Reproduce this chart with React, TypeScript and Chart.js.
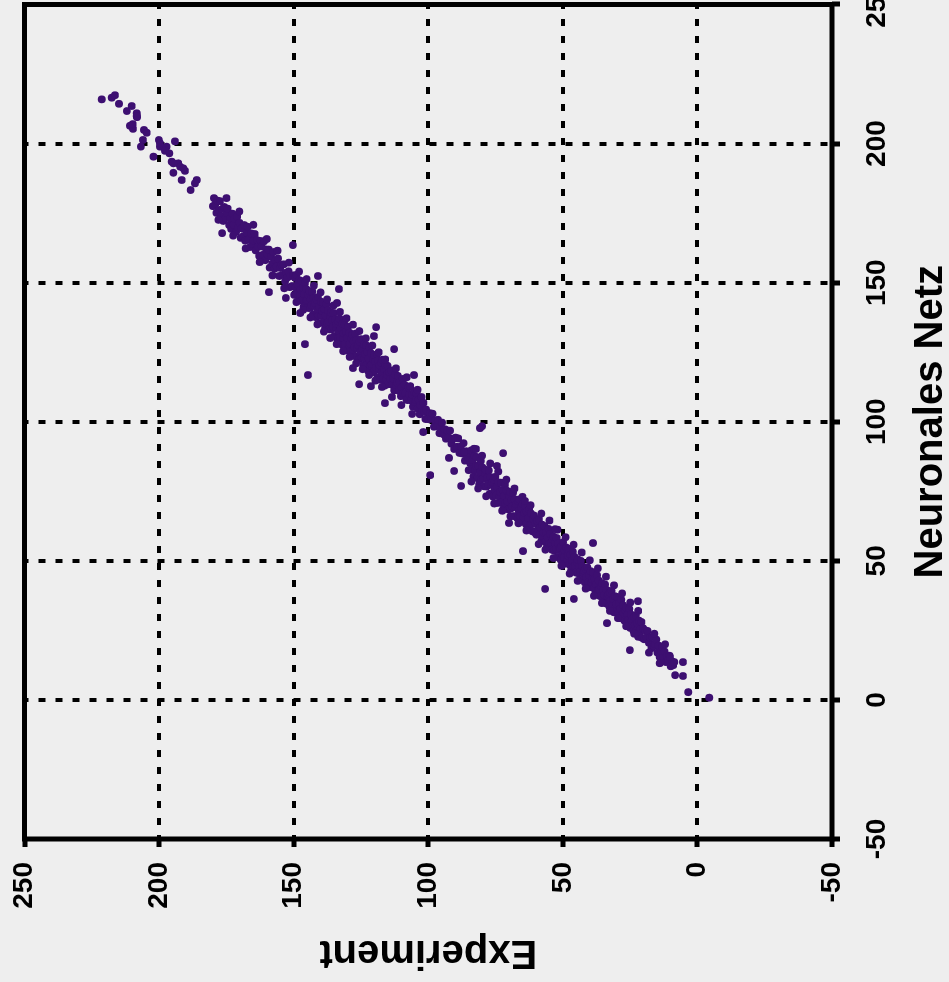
import { useEffect, useRef } from "react";
import { Chart, registerables } from "chart.js";

Chart.register(...registerables);

// Axis configuration (values)
const axisMin = -50;
const axisMax = 250;
const axisStep = 50;
const xTitle = "Neuronales Netz";
const yTitle = "Experiment";

// Data points: [Experiment, Neuronales Netz]
const tailPoints: number[][] = [
  [221.3, 215.9], [217.6, 216.5], [216.4, 217.4], [214.9, 214.3], [212.0, 211.7], [210.2, 213.5],
  [208.3, 210.9], [208.2, 209.5], [210.8, 206.4], [209.7, 205.3], [205.6, 204.9], [204.6, 203.9],
  [206.0, 201.3], [206.8, 198.9], [200.1, 201.3], [199.7, 198.9], [197.2, 198.9], [194.1, 200.8],
  [202.1, 195.3], [196.2, 196.5], [195.3, 193.5], [192.9, 192.9], [192.2, 191.7], [194.7, 189.5],
  [190.4, 190.2], [191.6, 186.9], [186.0, 186.9], [186.7, 185.7], [188.3, 183.3], [209.8, 207.0],
  [208.3, 209.9], [199.7, 200.1], [197.8, 197.4], [194.7, 192.9], [191.0, 191.1],
];

const upperBand: number[][] = [
  [180.0, 177.5], [179.6, 180.4], [179.1, 178.3], [178.7, 175.1], [178.3, 179.5], [177.9, 176.1],
  [177.4, 179.3], [177.0, 174.0], [176.6, 176.5], [176.2, 172.2], [175.8, 177.2], [175.3, 173.2],
  [174.9, 175.1], [174.5, 176.6], [174.0, 170.7], [173.6, 173.0], [173.2, 169.3], [172.7, 174.8],
  [172.3, 170.9], [171.9, 172.9], [171.4, 168.2], [171.0, 173.8], [170.6, 169.9], [170.1, 171.5],
  [169.7, 166.1], [169.3, 169.5], [168.8, 166.7], [168.4, 170.7], [168.0, 165.1], [167.5, 168.0],
  [167.1, 170.1], [166.7, 165.6], [166.2, 162.8], [165.8, 167.7], [165.4, 164.0], [164.9, 165.2],
  [164.5, 167.5], [164.1, 161.6], [163.6, 165.3], [163.2, 162.9], [162.8, 159.6], [162.3, 165.0],
  [161.9, 163.0], [161.5, 160.0], [161.0, 164.9], [160.6, 158.1], [160.2, 161.9], [159.7, 160.1],
  [159.3, 161.9], [158.9, 155.4], [158.4, 159.3], [158.0, 156.8], [157.6, 161.0], [157.1, 155.0],
  [156.7, 158.0], [156.3, 155.8], [155.8, 158.7], [155.4, 152.4], [155.0, 155.3], [154.5, 156.4],
  [154.1, 152.8], [153.7, 156.6], [153.2, 150.5], [152.8, 153.6], [152.4, 151.8], [151.9, 154.1],
  [151.5, 148.4], [151.1, 152.4], [150.6, 148.8], [150.2, 152.6],
];

const centralBand: number[][] = [
  [149.8, 145.6], [149.5, 151.8], [149.3, 148.2], [149.0, 152.8], [148.7, 146.1], [148.5, 149.4],
  [148.2, 143.5], [147.9, 150.9], [147.7, 145.9], [147.4, 147.5], [147.1, 150.6], [146.9, 143.6],
  [146.6, 148.1], [146.3, 141.4], [146.1, 145.8], [145.8, 149.9], [145.5, 143.3], [145.3, 147.7],
  [145.0, 143.8], [144.7, 140.9], [144.5, 145.7], [144.2, 147.0], [143.9, 140.9], [143.7, 144.1],
  [143.4, 141.9], [143.1, 146.8], [142.9, 138.5], [142.6, 144.5], [142.3, 141.7], [142.1, 142.8],
  [141.8, 137.6], [141.5, 143.8], [141.3, 140.2], [141.0, 144.8], [140.7, 138.1], [140.5, 141.4],
  [140.2, 135.5], [139.9, 143.2], [139.7, 138.2], [139.4, 139.8], [139.1, 142.9], [138.9, 135.9],
  [138.6, 140.4], [138.3, 133.7], [138.1, 138.1], [137.8, 142.2], [137.5, 135.6], [137.3, 140.0],
  [137.0, 136.1], [136.7, 133.2], [136.5, 138.0], [136.2, 139.3], [135.9, 133.2], [135.7, 136.4],
  [135.4, 134.2], [135.1, 139.1], [134.9, 130.8], [134.6, 136.8], [134.3, 134.0], [134.1, 135.1],
  [133.8, 129.9], [133.5, 136.1], [133.3, 132.5], [133.0, 137.1], [132.7, 130.4], [132.5, 133.7],
  [132.2, 127.8], [131.9, 135.2], [131.7, 130.2], [131.4, 131.8], [131.1, 134.9], [130.9, 127.9],
  [130.6, 132.4], [130.3, 125.7], [130.1, 130.1], [129.8, 134.2], [129.5, 127.6], [129.3, 132.0],
  [129.0, 128.1], [128.7, 125.2], [128.5, 130.0], [128.2, 131.3], [127.9, 125.8], [127.7, 129.0],
  [127.4, 126.8], [127.1, 131.7], [126.9, 123.4], [126.6, 129.4], [126.3, 126.6], [126.1, 127.7],
  [125.8, 122.5], [125.5, 128.7], [125.3, 125.1], [125.0, 129.7], [124.7, 123.0], [124.5, 126.3],
  [124.2, 120.4], [123.9, 127.8], [123.7, 122.8], [123.4, 124.4], [123.1, 127.5], [122.9, 120.5],
  [122.6, 125.0], [122.3, 118.3], [122.1, 122.7], [121.8, 126.8], [121.5, 120.2], [121.3, 124.6],
  [121.0, 120.7], [120.7, 117.8], [120.5, 122.6], [120.2, 123.9], [119.9, 118.4], [119.7, 121.6],
  [119.4, 119.4], [119.1, 124.3], [118.9, 116.0], [118.6, 122.0], [118.3, 119.2], [118.1, 120.3],
  [117.8, 115.1], [117.5, 121.3], [117.3, 117.7], [117.0, 122.3], [116.7, 115.6], [116.5, 118.9],
  [116.2, 113.0], [115.9, 120.4], [115.7, 115.4], [115.4, 117.0], [115.1, 120.1],
];

const middleBand: number[][] = [
  [114.8, 113.5], [114.4, 117.8], [114.1, 115.3], [113.7, 118.4], [113.4, 113.3], [113.0, 115.5],
  [112.7, 111.3], [112.3, 117.0], [112.0, 113.2], [111.6, 114.1], [111.3, 116.5], [110.9, 111.1],
  [110.6, 114.3], [110.2, 109.2], [109.9, 112.4], [109.5, 115.4], [109.2, 110.3], [108.8, 113.3],
  [108.5, 110.3], [108.1, 108.1], [107.8, 107.8], [107.4, 112.3], [107.1, 109.7], [106.7, 112.8],
  [106.4, 107.7], [106.0, 109.8], [105.7, 105.4], [105.3, 110.8], [105.0, 107.0], [104.6, 107.9],
  [104.3, 110.2], [103.9, 104.7], [103.6, 107.9], [103.2, 102.7], [102.9, 105.9], [102.5, 108.9],
  [102.2, 103.8], [101.8, 106.8], [101.5, 103.6], [101.1, 101.0], [100.8, 104.4], [100.4, 101.0],
];

const narrowBand: number[][] = [
  [99.9, 100.9], [99.4, 103.1], [98.9, 101.1], [98.4, 102.9], [97.9, 98.2], [97.4, 100.5],
  [96.9, 98.4], [96.4, 100.7], [95.9, 95.9], [95.4, 98.1], [94.9, 99.7], [94.4, 95.5],
  [93.9, 97.3], [93.4, 93.9], [92.9, 96.9], [92.4, 94.3], [91.9, 96.8], [91.4, 92.1],
  [90.9, 93.8], [90.4, 90.2], [89.9, 94.3], [89.4, 91.0], [88.9, 94.0], [88.4, 88.8],
  [87.9, 91.1], [87.4, 88.6], [86.9, 92.3], [86.4, 86.0], [85.9, 89.4], [85.4, 87.5],
];

const lowerMiddleBand: number[][] = [
  [85.0, 82.6], [84.7, 88.8], [84.4, 85.1], [84.1, 89.7], [83.8, 83.0], [83.5, 86.2],
  [83.2, 80.3], [82.9, 87.7], [82.6, 82.6], [82.3, 84.2], [82.0, 87.3], [81.7, 79.7],
  [81.4, 84.2], [81.1, 77.5], [80.8, 81.8], [80.5, 85.9], [80.2, 79.3], [79.9, 83.6],
  [79.6, 79.7], [79.3, 76.8], [79.0, 81.5], [78.7, 82.8], [78.4, 76.7], [78.1, 79.8],
  [77.8, 77.6], [77.5, 82.5], [77.2, 74.1], [76.9, 80.1], [76.6, 77.3], [76.3, 78.3],
  [76.0, 73.1], [75.7, 79.3], [75.4, 75.6], [75.1, 80.2], [74.8, 73.5], [74.5, 76.7],
  [74.2, 70.8], [73.9, 78.2], [73.6, 73.1], [73.3, 74.7], [73.0, 78.1], [72.7, 71.0],
  [72.4, 75.5], [72.1, 68.8], [71.8, 73.3], [71.5, 77.4], [71.2, 70.8], [70.9, 75.3],
  [70.6, 71.4], [70.3, 68.5], [70.0, 73.5], [69.7, 74.8], [69.4, 68.7], [69.1, 71.8],
  [68.8, 69.6], [68.5, 74.5], [68.2, 66.1], [67.9, 72.1], [67.6, 69.3], [67.3, 70.3],
  [67.0, 65.4], [66.7, 71.6], [66.4, 68.0], [66.1, 72.1], [65.8, 66.0], [65.5, 69.2],
  [65.2, 64.1], [64.9, 70.4], [64.6, 65.6], [64.3, 67.2], [64.0, 69.8], [63.7, 63.2],
  [63.4, 67.7], [63.1, 61.8], [62.8, 65.3], [62.5, 68.5], [62.2, 62.8], [61.9, 67.1],
  [61.6, 63.2], [61.3, 60.6], [61.0, 65.0], [60.7, 66.3], [60.4, 60.2], [60.1, 63.3],
];

const lowerBand: number[][] = [
  [59.8, 59.4], [59.5, 64.3], [59.2, 61.3], [58.9, 64.9], [58.6, 59.5], [58.3, 62.0],
  [58.0, 57.2], [57.7, 63.0], [57.4, 58.9], [57.1, 60.1], [56.8, 62.5], [56.5, 56.8],
  [56.2, 60.3], [55.9, 54.9], [55.6, 58.3], [55.3, 61.5], [55.0, 56.2], [54.7, 59.6],
  [54.4, 56.4], [54.1, 54.0], [53.8, 57.7], [53.5, 58.7], [53.2, 53.7], [52.9, 56.2],
  [52.6, 54.3], [52.3, 58.2], [52.0, 51.4], [51.7, 56.2], [51.4, 53.9], [51.1, 54.6],
  [50.8, 50.4], [50.5, 55.3], [50.2, 52.3], [49.9, 56.7], [49.6, 51.3], [49.3, 53.8],
  [49.0, 49.0], [48.7, 54.8], [48.4, 50.7], [48.1, 51.9], [47.8, 54.3], [47.5, 48.6],
  [47.2, 52.1], [46.9, 46.7], [46.6, 50.1], [46.3, 53.3], [46.0, 48.0], [45.7, 51.4],
  [45.4, 48.2], [45.1, 45.8], [44.8, 49.5], [44.5, 50.5], [44.2, 45.5], [43.9, 48.0],
  [43.6, 46.1], [43.3, 50.0], [43.0, 43.2], [42.7, 48.0], [42.4, 45.7], [42.1, 46.4],
  [41.8, 42.2], [41.5, 47.1], [41.2, 44.1], [40.9, 47.7], [40.6, 42.3], [40.3, 44.8],
  [40.0, 40.5], [39.7, 46.3], [39.4, 42.2], [39.1, 43.4], [38.8, 45.8], [38.5, 40.1],
  [38.2, 43.6], [37.9, 38.2], [37.6, 41.6], [37.3, 44.8], [37.0, 39.5], [36.7, 42.9],
  [36.4, 39.7], [36.1, 37.3], [35.8, 41.0], [35.5, 42.0], [35.2, 37.0], [34.9, 39.5],
  [34.6, 37.6], [34.3, 41.5], [34.0, 34.7], [33.7, 39.5], [33.4, 37.2], [33.1, 37.9],
  [32.8, 33.7], [32.5, 38.6], [32.2, 35.6], [31.9, 39.2], [31.6, 33.8], [31.3, 36.3],
  [31.0, 31.5], [30.7, 37.3], [30.4, 33.2], [30.1, 34.4], [29.8, 37.0], [29.5, 31.3],
  [29.2, 34.8], [28.9, 29.4], [28.6, 32.8], [28.3, 36.0], [28.0, 30.7], [27.7, 34.1],
  [27.4, 30.9], [27.1, 28.5], [26.8, 32.2], [26.5, 33.2], [26.2, 28.2], [25.9, 30.7],
  [25.6, 28.8], [25.3, 32.7], [25.0, 25.9], [24.7, 30.7], [24.4, 28.4], [24.1, 29.1],
  [23.8, 24.9], [23.5, 29.8], [23.2, 26.8], [22.9, 30.4], [22.6, 25.0], [22.3, 27.5],
  [22.0, 22.7], [21.7, 28.5], [21.4, 24.4], [21.1, 25.6], [20.8, 28.0], [20.5, 22.3],
  [20.2, 25.8],
];

const endBand: number[][] = [
  [19.8, 21.8], [19.4, 25.0], [18.9, 22.5], [18.5, 24.8], [18.0, 20.5], [17.6, 22.4],
  [17.1, 18.6], [16.7, 22.7], [16.2, 19.3], [15.8, 20.1], [15.3, 21.7], [14.9, 17.0],
  [14.4, 19.5], [14.0, 15.4], [13.5, 17.5], [13.1, 19.0], [12.6, 15.4], [12.2, 17.4],
  [11.7, 13.6], [11.3, 15.9], [10.8, 14.2], [10.4, 15.9], [9.9, 12.1], [9.5, 13.9],
  [9.0, 12.5], [8.6, 13.6], [5.4, 8.6], [8.3, 8.9], [10.2, 15.4], [5.4, 13.6],
  [3.4, 2.8], [-4.4, 0.8],
];

// Points scattered along the edges of the band
const bandEdges: number[][] = [
  [178.0, 172.6], [175.0, 180.4], [172.5, 166.9], [170.2, 175.6], [167.8, 162.3], [165.0, 170.8],
  [162.6, 157.4], [160.0, 165.7], [157.9, 152.6], [156.0, 161.5], [153.5, 148.0], [151.8, 157.2],
  [149.0, 143.0], [148.0, 154.0], [146.5, 140.2], [145.2, 151.3], [143.8, 137.5], [142.5, 148.9],
  [141.2, 135.0], [140.0, 146.5], [138.8, 132.4], [137.6, 144.0], [136.4, 130.1], [135.2, 141.8],
  [134.0, 127.9], [132.8, 139.5], [131.6, 125.4], [130.4, 137.2], [129.2, 123.3], [128.0, 134.9],
  [126.8, 121.0], [125.6, 132.6], [124.4, 118.9], [123.2, 130.0], [122.0, 116.8], [120.8, 127.4],
  [119.6, 114.8], [118.4, 125.0], [117.2, 112.5], [116.0, 122.4], [113.5, 108.9], [112.0, 119.2],
  [110.0, 106.0], [108.0, 116.0], [106.0, 102.8], [104.0, 111.5], [84.0, 78.5], [83.0, 90.3],
  [81.5, 76.0], [80.0, 87.8], [78.5, 73.2], [77.0, 85.0], [75.5, 70.6], [74.0, 82.1],
  [72.5, 68.0], [71.0, 79.2], [69.5, 66.0], [68.0, 76.0], [66.5, 63.5], [65.0, 73.0],
  [63.5, 60.9], [62.0, 70.0], [59.0, 56.0], [58.0, 67.0], [56.5, 54.0], [55.0, 64.5],
  [53.5, 51.0], [52.0, 61.2], [50.5, 48.2], [49.0, 58.5], [47.5, 45.4], [46.0, 55.8],
  [44.5, 42.8], [43.0, 53.0], [41.5, 40.0], [40.0, 50.2], [38.5, 37.4], [37.0, 47.3],
  [35.5, 34.8], [34.0, 44.3], [32.5, 32.0], [31.0, 41.2], [29.5, 29.4], [28.0, 38.3],
  [26.5, 26.5], [25.0, 35.0], [23.5, 23.8], [22.0, 32.0], [18.0, 17.0], [16.0, 23.8],
  [14.0, 13.2], [12.0, 20.0],
];

const outliers: number[][] = [
  [176.6, 167.8], [150.3, 163.5], [147.6, 139.1], [141.0, 152.4], [133.2, 147.7], [133.9, 142.7],
  [145.8, 127.9], [144.7, 116.8], [159.2, 146.6], [152.9, 144.5], [119.4, 134.0], [120.2, 130.8],
  [112.7, 126.1], [128.0, 119.3], [125.7, 113.5], [121.3, 112.8], [116.1, 106.7], [105.3, 116.8],
  [101.9, 96.3], [99.3, 80.8], [87.8, 76.9], [90.4, 82.3], [92.3, 87.0], [86.7, 89.1],
  [82.3, 90.2], [80.8, 97.7], [80.0, 98.4], [74.5, 84.1], [72.2, 88.7], [64.1, 71.5],
  [70.0, 63.6], [64.8, 53.5], [52.9, 61.4], [38.8, 56.4], [56.6, 39.9], [45.9, 36.3],
  [22.1, 35.5], [33.6, 27.6], [25.1, 17.9],
];

const allPoints = [
  ...tailPoints, ...upperBand, ...centralBand, ...middleBand, ...narrowBand,
  ...lowerMiddleBand, ...lowerBand, ...endBand, ...bandEdges, ...outliers,
];

const CANVAS_W = 1001;
const CANVAS_H = 970;
const FONT = "'Liberation Sans', Arial, Helvetica, sans-serif";

const plotBox = {
  id: "plotBox",
  beforeDatasetsDraw(chart: any) {
    const { ctx, chartArea: a } = chart;
    ctx.save();
    ctx.strokeStyle = "#000";
    ctx.lineWidth = 5;
    ctx.strokeRect(a.left, a.top, a.right - a.left, a.bottom - a.top);
    ctx.restore();
  },
};

export default function App() {
  const ref = useRef<HTMLCanvasElement | null>(null);

  useEffect(() => {
    if (!ref.current) return;
    const gridOpts = {
      color: "#000",
      lineWidth: 4,
      tickLength: 8,
      tickWidth: 5,
      tickColor: "#000",
      drawTicks: true,
    };
    const borderOpts = { display: false, dash: [7, 10], dashOffset: 3 };
    const chart = new Chart(ref.current, {
      type: "scatter",
      data: {
        datasets: [
          {
            data: allPoints.map(([e, n]) => ({ x: n, y: e })),
            backgroundColor: "#3d0f71",
            borderWidth: 0,
            pointRadius: 3.9,
            pointHoverRadius: 3.9,
          },
        ],
      },
      options: {
        responsive: false,
        animation: false,
        devicePixelRatio: 1,
        layout: { padding: { top: 24.5, right: 23.5, bottom: 0, left: 0 } },
        plugins: { legend: { display: false }, tooltip: { enabled: false } },
        scales: {
          x: {
            type: "linear",
            min: axisMin,
            max: axisMax,
            grid: gridOpts,
            border: borderOpts,
            ticks: {
              stepSize: axisStep,
              color: "#000",
              padding: 20,
              maxRotation: 0,
              autoSkip: false,
              font: { family: FONT, size: 28, weight: "bold" },
            },
            title: {
              display: true,
              text: xTitle,
              color: "#000",
              padding: { top: 0, bottom: 15 },
              font: { family: FONT, size: 40, weight: "bold" },
            },
            afterFit: (s: any) => {
              s.height = CANVAS_H - 832;
              s.paddingLeft = 0;
              s.paddingRight = 0;
            },
          },
          y: {
            type: "linear",
            min: axisMin,
            max: axisMax,
            grid: gridOpts,
            border: borderOpts,
            ticks: {
              stepSize: axisStep,
              color: "#000",
              padding: 15,
              autoSkip: false,
              font: { family: FONT, size: 28, weight: "bold" },
            },
            title: {
              display: true,
              text: yTitle,
              color: "#000",
              padding: { top: 6, bottom: 0 },
              font: { family: FONT, size: 40, weight: "bold" },
            },
            afterFit: (s: any) => {
              s.width = 143;
              s.paddingTop = 0;
              s.paddingBottom = 0;
            },
          },
        },
      },
      plugins: [plotBox],
    } as any);
    return () => chart.destroy();
  }, []);

  return (
    <div
      style={{
        position: "fixed",
        left: 0,
        top: 0,
        width: 949,
        height: 982,
        overflow: "hidden",
        background: "#eeeeee",
      }}
    >
      <div
        style={{
          position: "absolute",
          left: 0,
          top: 0,
          width: CANVAS_W,
          height: CANVAS_H,
          transformOrigin: "0 0",
          transform: "translate(0px, 982px) rotate(-90deg)",
        }}
      >
        <canvas
          ref={ref}
          width={CANVAS_W}
          height={CANVAS_H}
          style={{ display: "block", width: CANVAS_W, height: CANVAS_H }}
        />
      </div>
    </div>
  );
}
